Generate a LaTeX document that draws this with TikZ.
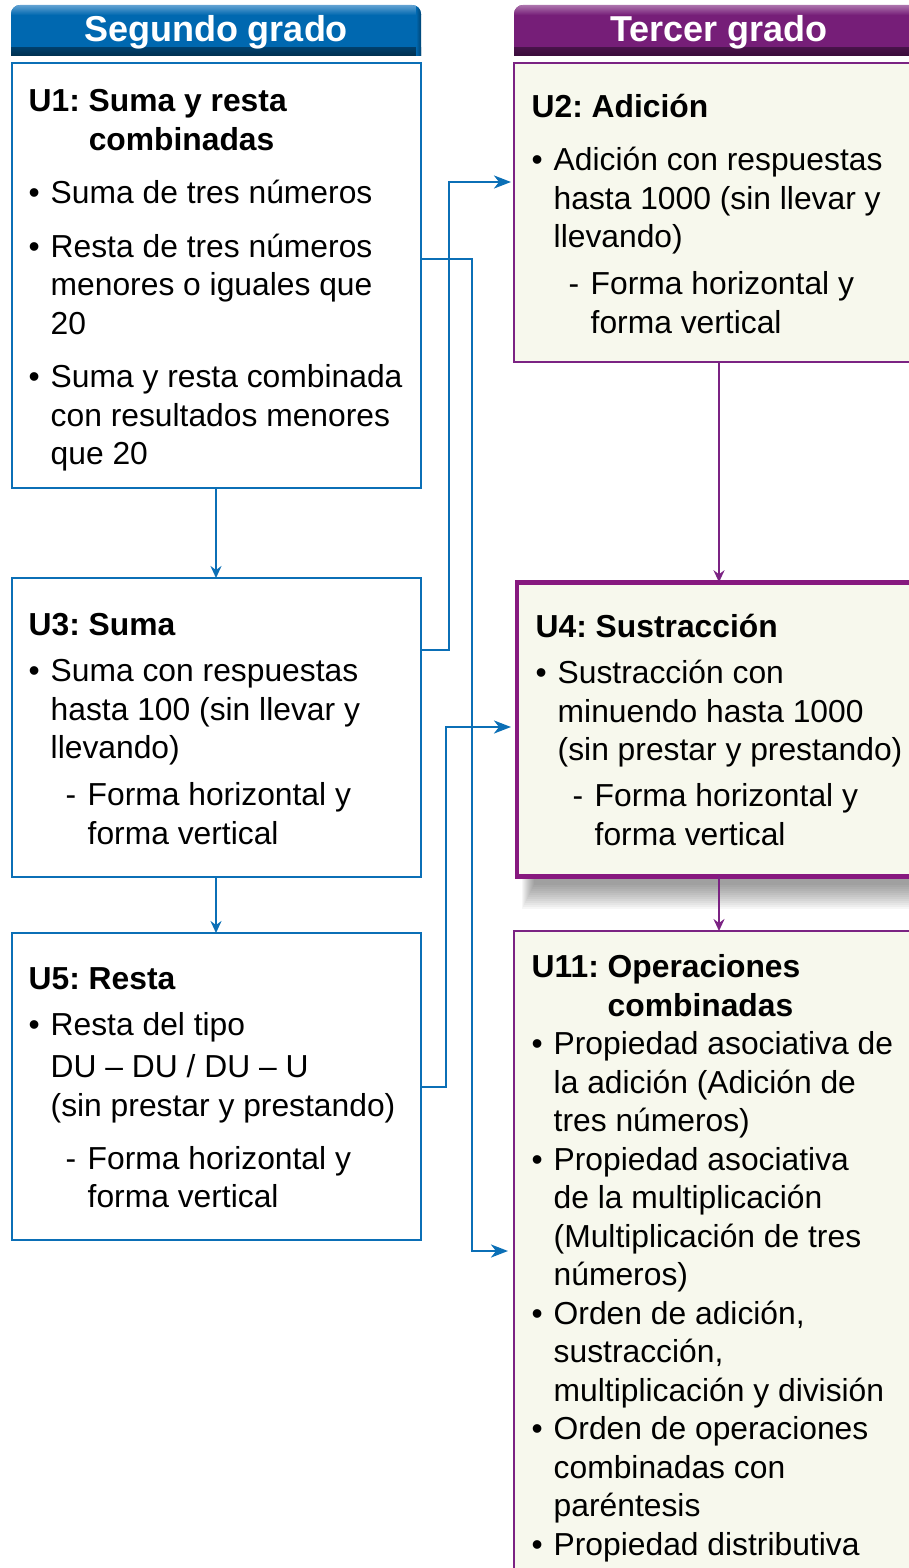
\documentclass[tikz,border=0pt]{standalone}
\usepackage{fontspec}
\setmainfont{Liberation Sans}
\usetikzlibrary{arrows.meta,calc}
\definecolor{myblue}{HTML}{0B6FB6}
\definecolor{hblue}{HTML}{0068B0}
\definecolor{hbluelight}{HTML}{62A2D2}
\definecolor{hbluedark}{HTML}{00304F}
\definecolor{mypurple}{HTML}{7B2383}
\definecolor{u4purple}{HTML}{87197F}
\definecolor{hpurple}{HTML}{761E78}
\definecolor{hpurplelight}{HTML}{AC74AD}
\definecolor{hpurpledark}{HTML}{3A0C3A}
\definecolor{cream}{HTML}{F7F8ED}
\frenchspacing
\newcommand\myB{\makebox[22pt][l]{•}}
\newcommand\myI{\hspace*{22pt}}
\newcommand\myD{\hspace*{37pt}\makebox[22pt][l]{-}}
\newcommand\myS{\hspace*{59pt}}
\tikzset{
  lbox/.style={draw=myblue, line width=2pt, fill=white, inner sep=0pt, outer sep=0pt, minimum width=409},
  rbox/.style={draw=mypurple, line width=2pt, fill=cream, inner sep=0pt, outer sep=0pt, minimum width=410},
  txt/.style={anchor=north west, inner sep=0pt, align=left, font=\fontsize{31.8}{38.5}\selectfont},
  hdr/.style={text=white, inner sep=0pt, font=\fontsize{36}{40}\selectfont\bfseries},
  bconn/.style={draw=myblue, line width=2.6pt, -{Stealth[length=17pt,width=13pt,inset=5pt]}},
  bvert/.style={draw=myblue, line width=2.2pt, -{Stealth[length=12pt,width=11pt,inset=4pt]}},
  pvert/.style={draw=mypurple, line width=2.2pt, -{Stealth[length=12pt,width=11pt,inset=4pt]}}
}
\begin{document}
\begin{tikzpicture}[x=1pt,y=-1pt]
\useasboundingbox (0,0) rectangle (909,1568);
\clip (0,0) rectangle (909,1568);

% headers
\begin{scope}
  \clip[rounded corners=9pt] (11,5) rectangle (421,80);
  \fill[hblue] (11,5) rectangle (421,56);
  \shade[top color=hbluelight, bottom color=hblue] (11,5) rectangle (421,15);
  \shade[top color=hblue!60!black, bottom color=hbluedark] (11,48) rectangle (421,56);
  \shade[left color=hblue, right color=hblue!65!black] (416,5) rectangle (421,56);
\end{scope}
\node[hdr] (hl) at (216,32) {Segundo grado};

\begin{scope}
  \clip[rounded corners=9pt] (514,5) rectangle (924,80);
  \fill[hpurple] (514,5) rectangle (924,56);
  \shade[top color=hpurplelight, bottom color=hpurple] (514,5) rectangle (924,15);
  \shade[top color=hpurple!60!black, bottom color=hpurpledark] (514,48) rectangle (924,56);
\end{scope}
\node[hdr] (hr) at (719,32) {Tercer grado};

% left boxes
\node[lbox, minimum height=425] (u1) at (216,275.5) {};
\node[lbox, minimum height=299] (u3) at (216,727.5) {};
\node[lbox, minimum height=307] (u5) at (216,1086.5) {};

% right boxes
\node[rbox, minimum height=299] (u2) at (719,212.5) {};
\foreach \i in {0,...,12}{
  \fill[black, opacity=0.035] (522+\i,600) rectangle (940,909-2*\i);
}
\node[rbox, draw=u4purple, line width=4.5pt, minimum height=294, minimum width=404] (u4) at (719,729.25) {};
\node[rbox, minimum height=700] (u11) at (719,1281) {};

% texts
\node[txt] (t1) at (28.5,84.5) {\strut\textbf{U1: Suma y resta}\\
\hphantom{\textbf{U1: }}\textbf{combinadas}\\[15pt]
\myB Suma de tres números\\[15pt]
\myB Resta de tres números\\
\myI menores o iguales que\\
\myI 20\\[15pt]
\myB Suma y resta combinada\\
\myI con resultados menores\\
\myI que 20};

\node[txt] (t3) at (28.5,608.5) {\strut\textbf{U3: Suma}\\[7.5pt]
\myB Suma con respuestas\\
\myI hasta 100 (sin llevar y\\
\myI llevando)\\[8.5pt]
\myD Forma horizontal y\\
\myS forma vertical};

\node[txt] (t5) at (28.5,962.5) {\strut\textbf{U5: Resta}\\[7.5pt]
\myB Resta del tipo\\[3.5pt]
\myI DU – DU / DU – U\\
\myI (sin prestar y prestando)\\[14.5pt]
\myD Forma horizontal y\\
\myS forma vertical};

\node[txt] (t2) at (531.5,90.5) {\strut\textbf{U2: Adición}\\[14.5pt]
\myB Adición con respuestas\\
\myI hasta 1000 (sin llevar y\\
\myI llevando)\\[8.5pt]
\myD Forma horizontal y\\
\myS forma vertical};

\node[txt] (t4) at (535.5,610.5) {\strut\textbf{U4: Sustracción}\\[7.5pt]
\myB Sustracción con\\
\myI minuendo hasta 1000\\
\myI (sin prestar y prestando)\\[7.5pt]
\myD Forma horizontal y\\
\myS forma vertical};

\node[txt] (t11) at (531.5,950.5) {\strut\textbf{U11: Operaciones}\\
\hphantom{\textbf{U11: }}\textbf{combinadas}\\
\myB Propiedad asociativa de\\
\myI la adición (Adición de\\
\myI tres números)\\
\myB Propiedad asociativa\\
\myI de la multiplicación\\
\myI (Multiplicación de tres\\
\myI números)\\
\myB Orden de adición,\\
\myI sustracción,\\
\myI multiplicación y división\\
\myB Orden de operaciones\\
\myI combinadas con\\
\myI paréntesis\\
\myB Propiedad distributiva};

% helper coordinates
\coordinate (k1) at (0,259);
\coordinate (k1b) at (0,1251);
\coordinate (k2) at (0,650);
\coordinate (k2b) at (0,182);
\coordinate (k3) at (0,1087);
\coordinate (k3b) at (0,727);
\coordinate (v1) at (472,0);
\coordinate (v2) at (449,0);
\coordinate (v3) at (446,0);

% vertical arrows
\draw[bvert] (u1.south) -- (u3.north);
\draw[bvert] (u3.south) -- (u5.north);
\draw[pvert] (u2.south) -- (u4.north);
\draw[pvert] (u4.south) -- (u11.north);

% elbow connectors
\draw[bconn, shorten >=6pt] (u1.east |- k1) -- (v1 |- k1) -- (v1 |- k1b) -- (u11.west |- k1b);
\draw[bconn, shorten >=3pt] (u3.east |- k2) -- (v2 |- k2) -- (v2 |- k2b) -- (u2.west |- k2b);
\draw[bconn, shorten >=6pt] (u5.east |- k3) -- (v3 |- k3) -- (v3 |- k3b) -- (u4.west |- k3b);
\end{tikzpicture}
\end{document}
